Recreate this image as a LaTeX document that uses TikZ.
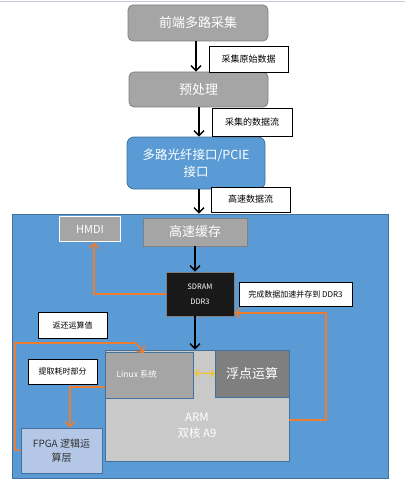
\documentclass[tikz,border=0pt]{standalone}
\usepackage{fontspec}
\setmainfont{Noto Sans CJK SC}
\usepackage{tikz}
\usetikzlibrary{calc,arrows.meta}
\definecolor{boxgray}{HTML}{A5A5A5}
\definecolor{darkgray}{HTML}{7F7F7F}
\definecolor{armgray}{HTML}{C9C9C9}
\definecolor{boxblue}{HTML}{5B9BD5}
\definecolor{edgeblue}{HTML}{41719C}
\definecolor{fpgablue}{HTML}{B4C7E7}
\definecolor{orangeline}{HTML}{ED7D31}
\definecolor{yellowline}{HTML}{FFC000}
\definecolor{topline}{HTML}{C8C8D6}
\newcommand{\fsz}[1]{\fontsize{#1}{#1}\selectfont}
\tikzset{
  blk/.style={draw=#1,line width=0.8pt,inner sep=0pt,align=center,text=white},
  tag/.style={draw=black,line width=0.8pt,fill=white,inner sep=0pt,font=\fsz{9}},
  flow/.style={line width=1.6pt,-{Straight Barb[length=5pt,width=10pt,line width=1.4pt]}},
  back/.style={orangeline,line width=1.6pt,-{Straight Barb[length=5pt,width=10pt,line width=1.4pt]}},
}

\begin{document}
\begin{tikzpicture}[x=1pt,y=-1pt]
        \useasboundingbox (0,0) rectangle (408,492);
        \draw[topline,line width=1pt] (0,2) -- (405,2);

\node[blk=gray,fill=boxgray,rounded corners=5pt,minimum width=140,minimum height=36,font=\fsz{13}] (front) at (198,23) {前端多路采集};
\node[blk=gray,fill=boxgray,rounded corners=5pt,minimum width=139,minimum height=35,font=\fsz{13}] (pre) at (198.5,89.5) {预处理};
\node[blk=edgeblue,fill=boxblue,rounded corners=7pt,minimum width=138,minimum height=52,font=\fsz{12.5}] (fiber) at (196,163) {多路光纤接口/PCIE\\[3pt]接口};

\node[tag,minimum width=79,minimum height=26] (lraw) at (248.5,59) {采集原始数据};
\node[tag,minimum width=80,minimum height=28] (lcol) at (252,122) {采集的数据流};
\node[tag,minimum width=79,minimum height=25] (lfast) at (250.5,199.5) {高速数据流};

\draw[flow] (front.south -| 196,0) -- (pre.north -| 196,0);
\draw[flow] (pre.south -| 199,0) -- (fiber.north -| 199,0);

        \node[draw=edgeblue,fill=boxblue,line width=0.8pt,minimum width=376,minimum height=264,inner sep=0pt] (board) at (200,346) {};
\draw[flow] (fiber.south -| 199,0) -- (board.north -| 199,0);

\node[blk=white,fill=boxgray,line width=1.6pt,minimum width=61,minimum height=25,font=\fsz{11}] (hmdi) at (90,229) {HMDI};
\node[blk=gray,fill=boxgray,minimum width=104,minimum height=28,font=\fsz{13}] (cache) at (195,232) {高速缓存};
\node[blk=gray,fill=black!90,minimum width=68,minimum height=44,font=\fsz{7.5}] (sdram) at (200,294) {SDRAM\\[8pt]DDR3};
\node[tag,minimum width=113,minimum height=24,font=\fsz{8}] (ldone) at (295.5,294) {完成数据加速并存到 DDR3};

\node[blk=edgeblue,fill=armgray,minimum width=184,minimum height=111] (arm) at (197,405.5) {};
\node[text=white,align=center,font=\fsz{11.5}] (armtxt) at (197,426) {ARM\\[4pt]双核 A9};
\node[blk=edgeblue,fill=boxgray,minimum width=88,minimum height=46] (linux) at (149,375) {};
\node[text=white,font=\fsz{8.5},anchor=west] (linuxtxt) at (113,374) {Linux 系统};
\node[blk=edgeblue,fill=darkgray,minimum width=74,minimum height=47,font=\fsz{13}] (float) at (252,373.5) {浮点运算};
\node[blk=edgeblue,fill=fpgablue,text=black!80,minimum width=81,minimum height=45,font=\fsz{10}] (fpga) at (61.5,450.5) {FPGA 逻辑运\\[4pt]算层};

\node[tag,minimum width=69,minimum height=26,font=\fsz{8}] (lret) at (72.5,325) {返还运算值};
\node[tag,minimum width=69,minimum height=25,font=\fsz{8}] (lpick) at (62.5,371.5) {提取耗时部分};

\draw[flow] (cache.south) -- (cache.south |- sdram.north);
\draw[flow] (cache.south |- sdram.south) -- (cache.south |- arm.north);

\draw[back] (sdram.west) -| (hmdi.south -| 94,0);
\draw[back] (arm.east |- 0,420) -| (326,313) -- (sdram.east |- 0,313);
\draw[back] (fpga.west) -- (15,450) |- (136,343) -- (144,353);
\draw[back] (linux.west |- 0,387) -| (fpga.north -| 70,0);
\draw[yellowline,line width=1pt,{Straight Barb[length=3pt,width=7pt]}-{Straight Barb[length=3pt,width=7pt]}] (195,373) -- (float.west);

    \end{tikzpicture}
\end{document}
